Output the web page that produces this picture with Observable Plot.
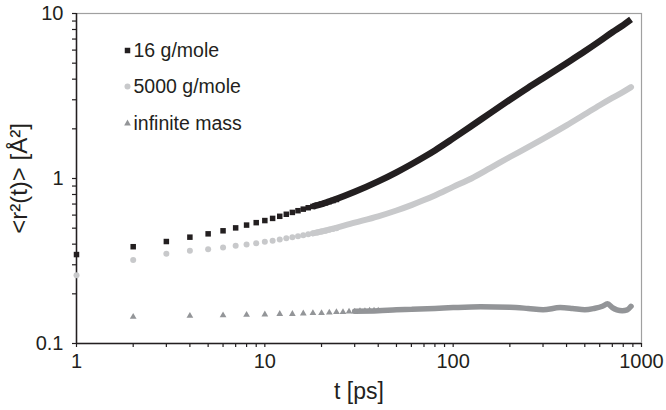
<!DOCTYPE html>
<html><head><meta charset="utf-8">
<script src="https://cdn.jsdelivr.net/npm/d3@7"></script>
<script src="https://cdn.jsdelivr.net/npm/@observablehq/plot@0.6"></script>
<style>
body{margin:0;background:#fff;}
#chart svg{display:block;}
</style></head><body><div id="chart"></div>
<script>
// ---- data ----
const seriesNames = ["16 g/mole", "5000 g/mole", "infinite mass"];

// early, individually visible markers
const tEarly = [1,2,3,4,5,6,7,8,9,10,11,12,13,14,15,16,17,18,19,20,21,22,23,24];
const m16Early = [0.346,0.386,0.415,0.441,0.462,0.482,0.502,0.522,0.540,0.556,0.573,0.590,0.607,0.623,0.638,0.652,0.665,0.677,0.689,0.700,0.712,0.724,0.735,0.746];
const m5000Early = [0.259,0.321,0.350,0.365,0.373,0.382,0.391,0.398,0.405,0.413,0.420,0.427,0.434,0.441,0.447,0.453,0.459,0.465,0.471,0.477,0.483,0.489,0.495,0.500];
const tInfEarly = [2,4,6,8,10,12,14,16,18,20,22,24,26,28,30,32,34,36,38,40];
const mInfEarly = [0.145,0.147,0.148,0.149,0.150,0.151,0.151,0.152,0.153,0.153,0.154,0.155,0.155,0.156,0.156,0.157,0.157,0.158,0.158,0.158];

// dense part (markers merge into a band)
const tDense = [18,20,30,40,50,60,70,80,100,125,158,200,250,300,400,500,600,700,800,880];
const m16Dense = [0.677,0.700,0.83,0.96,1.09,1.22,1.35,1.48,1.75,2.08,2.50,3.00,3.55,4.05,5.00,5.90,6.80,7.70,8.50,9.20];
const m5000Dense = [0.465,0.477,0.54,0.59,0.64,0.69,0.74,0.79,0.89,1.00,1.16,1.35,1.55,1.74,2.10,2.45,2.78,3.08,3.35,3.58];
const tInfDense = [30,40,50,60,80,100,140,200,250,300,370,430,500,560,620,660,700,740,790,840,880];
const mInfDense = [0.157,0.158,0.160,0.161,0.163,0.165,0.167,0.166,0.163,0.160,0.165,0.163,0.160,0.163,0.168,0.174,0.165,0.160,0.158,0.160,0.168];

// ticks
const xTicks = [1,2,3,4,5,6,7,8,9,10,20,30,40,50,60,70,80,90,100,200,300,400,500,600,700,800,900,1000];
const xMajor = [1,10,100,1000];
const yTicks = [0.1,0.2,0.3,0.4,0.5,0.6,0.7,0.8,0.9,1,2,3,4,5,6,7,8,9,10];
const yMajor = [0.1,1,10];
const xTitle = "t [ps]";
const yTitle = "<r²(t)> [Å²]";

const C16 = "#231f20", C5000 = "#c8c9cb", CInf = "#939598", INK = "#231f20";

const chart = Plot.plot({
  width: 666, height: 410,
  marginLeft: 76, marginRight: 25, marginTop: 13, marginBottom: 67,
  style: {fontFamily: "'Liberation Sans', Arial, Helvetica, sans-serif", fontSize: "19px", color: INK, background: "#fff"},
  x: {type: "log", domain: [1, 1000]},
  y: {type: "log", domain: [0.1, 10]},
  marks: [
    Plot.frame({stroke: "#a0a0a0", strokeWidth: 1.2}),
    Plot.axisX({ticks: xTicks, tickFormat: d => xMajor.includes(d) ? String(d) : "", tickSize: 4, tickPadding: 6, label: null, fontSize: 20, strokeWidth: 1.2}),
    Plot.axisY({ticks: yTicks, tickFormat: d => yMajor.includes(d) ? String(d) : "", tickSize: 4, tickPadding: 9, label: null, fontSize: 20, strokeWidth: 1.2}),
    Plot.ruleX([1], {stroke: INK, strokeWidth: 1.5}),
    Plot.ruleY([0.1], {stroke: INK, strokeWidth: 1.5}),
    // infinite mass
    Plot.line(mInfDense, {x: tInfDense, y: mInfDense, stroke: CInf, strokeWidth: 5.5, curve: "monotone-x", strokeLinecap: "round"}),
    Plot.dot(mInfEarly, {x: tInfEarly, y: mInfEarly, symbol: "triangle", r: 2.5, fill: CInf}),
    // 5000 g/mole
    Plot.line(m5000Dense, {x: tDense, y: m5000Dense, stroke: C5000, strokeWidth: 6, curve: "monotone-x", strokeLinecap: "round"}),
    Plot.dot(m5000Early, {x: tEarly, y: m5000Early, symbol: "circle", r: 3, fill: C5000}),
    // 16 g/mole
    Plot.line(m16Dense, {x: tDense, y: m16Dense, stroke: C16, strokeWidth: 6.5, curve: "monotone-x", strokeLinecap: "butt"}),
    Plot.dot(m16Early, {x: tEarly, y: m16Early, symbol: "square", r: 3.1, fill: C16}),
    // legend
    Plot.dot([seriesNames[0]], {frameAnchor: "top-left", dx: 51, dy: 37, symbol: "square", r: 3.1, fill: C16}),
    Plot.dot([seriesNames[1]], {frameAnchor: "top-left", dx: 51, dy: 73, symbol: "circle", r: 3, fill: C5000}),
    Plot.dot([seriesNames[2]], {frameAnchor: "top-left", dx: 51, dy: 110, symbol: "triangle", r: 2.5, fill: CInf}),
    Plot.text([seriesNames[0]], {frameAnchor: "top-left", dx: 57, dy: 37, text: d => d, textAnchor: "start", lineAnchor: "middle", fontSize: 19.5, fill: INK}),
    Plot.text([seriesNames[1]], {frameAnchor: "top-left", dx: 57, dy: 73, text: d => d, textAnchor: "start", lineAnchor: "middle", fontSize: 19.5, fill: INK}),
    Plot.text([seriesNames[2]], {frameAnchor: "top-left", dx: 57, dy: 110, text: d => d, textAnchor: "start", lineAnchor: "middle", fontSize: 19.5, fill: INK}),
    // axis titles
    Plot.text([xTitle], {frameAnchor: "bottom", dy: 48, text: d => d, textAnchor: "middle", lineAnchor: "middle", fontSize: 23, fill: INK}),
    Plot.text([yTitle], {frameAnchor: "left", dx: -57, rotate: -90, text: d => d, textAnchor: "middle", lineAnchor: "middle", fontSize: 24, fill: INK})
  ]
});
document.getElementById("chart").appendChild(chart);
</script></body></html>
